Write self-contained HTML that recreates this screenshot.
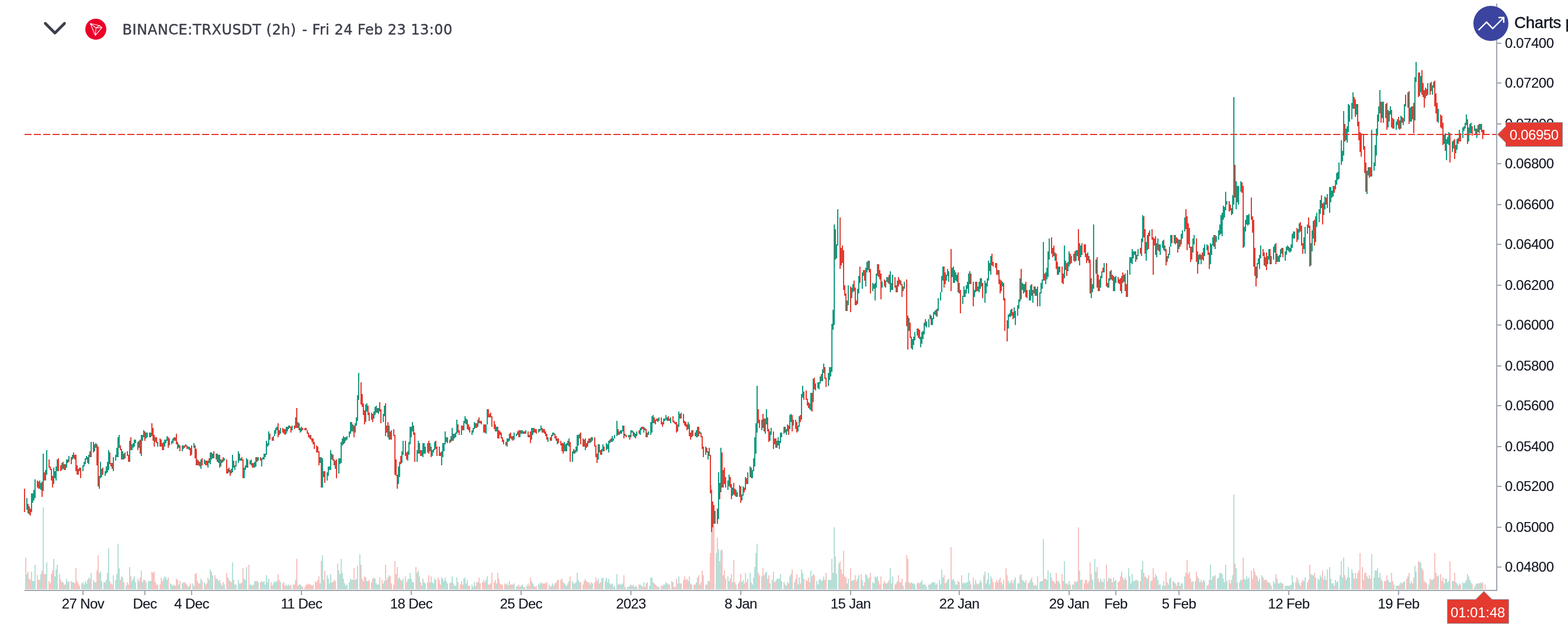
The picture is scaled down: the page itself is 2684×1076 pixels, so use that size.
<!DOCTYPE html>
<html lang="en">
<head>
<meta charset="utf-8">
<title>BINANCE:TRXUSDT (2h)</title>
<style>
html,body{margin:0;padding:0;background:#fff;width:100%;height:100%;overflow:hidden;}
svg{display:block;width:100vw;height:100vh;}
.ax{font-family:"Liberation Sans",sans-serif;font-size:24px;fill:#131722;letter-spacing:-0.45px;stroke:#131722;stroke-width:0.15px;}
.tm{font-family:"Liberation Sans",sans-serif;font-size:24px;fill:#131722;letter-spacing:-0.6px;text-anchor:middle;stroke:#131722;stroke-width:0.15px;}
.hd{font-family:"DejaVu Sans","Liberation Sans",sans-serif;font-size:24px;fill:#3c3f4b;letter-spacing:0.5px;stroke:#3c3f4b;stroke-width:0.45px;}
.br{font-family:"Liberation Sans",sans-serif;font-size:27.6px;fill:#131722;letter-spacing:-0.2px;stroke:#131722;stroke-width:0.5px;}
.lb{font-family:"Liberation Sans",sans-serif;font-size:24px;fill:#fff;}
</style>
</head>
<body>
<svg viewBox="0 0 2684 1076" preserveAspectRatio="xMinYMin meet" role="img" aria-label="BINANCE:TRXUSDT 2h candlestick chart">
<rect width="2684" height="1076" fill="#fff"/>
<g shape-rendering="crispEdges">
<path fill="#b3e0d8" d="M45 982v26h2v-26zM49 990v18h2v-18zM53 978v30h2v-30zM55 994v14h2v-14zM57 994v14h2v-14zM59 966v42h2v-42zM67 992v16h2v-16zM69 982v26h2v-26zM73 868v140h2v-140zM77 982v26h2v-26zM79 962v46h2v-46zM91 956v52h2v-52zM93 986v22h2v-22zM95 974v34h2v-34zM97 966v42h2v-42zM105 996v12h2v-12zM111 1000v8h2v-8zM113 990v18h2v-18zM117 994v14h2v-14zM123 996v12h2v-12zM135 1002v6h2v-6zM141 996v12h2v-12zM143 1000v8h2v-8zM145 994v14h2v-14zM147 998v10h2v-10zM151 988v20h2v-20zM155 980v28h2v-28zM161 996v12h2v-12zM163 996v12h2v-12zM169 980v28h2v-28zM171 978v30h2v-30zM173 994v14h2v-14zM179 996v12h2v-12zM181 992v16h2v-16zM183 980v28h2v-28zM185 938v70h2v-70zM193 984v24h2v-24zM197 992v16h2v-16zM199 982v26h2v-26zM201 930v78h2v-78zM203 972v36h2v-36zM209 988v20h2v-20zM215 1002v6h2v-6zM221 970v38h2v-38zM225 994v14h2v-14zM227 990v18h2v-18zM229 986v22h2v-22zM231 996v12h2v-12zM237 994v14h2v-14zM241 976v32h2v-32zM243 996v12h2v-12zM245 992v16h2v-16zM249 996v12h2v-12zM253 994v14h2v-14zM257 994v14h2v-14zM265 996v12h2v-12zM269 1000v8h2v-8zM279 990v18h2v-18zM281 986v22h2v-22zM283 988v20h2v-20zM285 992v16h2v-16zM291 998v10h2v-10zM293 1000v8h2v-8zM295 1002v6h2v-6zM299 1002v6h2v-6zM305 1000v8h2v-8zM311 998v10h2v-10zM313 996v12h2v-12zM317 998v10h2v-10zM321 1004v4h2v-4zM323 1002v6h2v-6zM329 998v10h2v-10zM331 1002v6h2v-6zM337 994v14h2v-14zM343 990v18h2v-18zM349 996v12h2v-12zM355 988v20h2v-20zM359 974v34h2v-34zM363 984v24h2v-24zM369 990v18h2v-18zM373 994v14h2v-14zM377 998v10h2v-10zM379 1002v6h2v-6zM383 1000v8h2v-8zM389 988v20h2v-20zM395 996v12h2v-12zM397 962v46h2v-46zM401 1000v8h2v-8zM403 1000v8h2v-8zM407 992v16h2v-16zM411 998v10h2v-10zM417 990v18h2v-18zM419 992v16h2v-16zM421 970v38h2v-38zM427 1000v8h2v-8zM429 1000v8h2v-8zM433 1000v8h2v-8zM435 994v14h2v-14zM437 994v14h2v-14zM441 996v12h2v-12zM447 994v14h2v-14zM449 996v12h2v-12zM451 994v14h2v-14zM453 1000v8h2v-8zM455 984v24h2v-24zM457 996v12h2v-12zM459 990v18h2v-18zM467 998v10h2v-10zM469 994v14h2v-14zM471 996v12h2v-12zM473 994v14h2v-14zM479 996v12h2v-12zM489 1000v8h2v-8zM493 1000v8h2v-8zM501 1000v8h2v-8zM505 992v16h2v-16zM509 1002v6h2v-6zM513 1000v8h2v-8zM515 1002v6h2v-6zM529 1000v8h2v-8zM547 998v10h2v-10zM551 950v58h2v-58zM559 984v24h2v-24zM561 990v18h2v-18zM563 998v10h2v-10zM565 982v26h2v-26zM567 996v12h2v-12zM573 994v14h2v-14zM579 976v32h2v-32zM581 982v26h2v-26zM583 956v52h2v-52zM585 980v28h2v-28zM589 998v10h2v-10zM591 1002v6h2v-6zM593 1000v8h2v-8zM597 996v12h2v-12zM599 990v18h2v-18zM603 992v16h2v-16zM607 992v16h2v-16zM609 990v18h2v-18zM611 968v40h2v-40zM615 948v60h2v-60zM625 988v20h2v-20zM627 994v14h2v-14zM635 996v12h2v-12zM639 988v20h2v-20zM641 990v18h2v-18zM643 998v10h2v-10zM647 1000v8h2v-8zM655 998v10h2v-10zM657 994v14h2v-14zM665 984v24h2v-24zM669 998v10h2v-10zM681 990v18h2v-18zM683 988v20h2v-20zM687 994v14h2v-14zM689 990v18h2v-18zM697 992v16h2v-16zM699 990v18h2v-18zM701 980v28h2v-28zM703 990v18h2v-18zM705 996v12h2v-12zM713 980v28h2v-28zM715 976v32h2v-32zM721 1002v6h2v-6zM723 990v18h2v-18zM725 996v12h2v-12zM727 998v10h2v-10zM731 996v12h2v-12zM735 996v12h2v-12zM739 996v12h2v-12zM741 998v10h2v-10zM743 990v18h2v-18zM755 988v20h2v-20zM757 990v18h2v-18zM759 994v14h2v-14zM761 988v20h2v-20zM763 994v14h2v-14zM771 996v12h2v-12zM773 986v22h2v-22zM777 1002v6h2v-6zM779 1002v6h2v-6zM781 988v20h2v-20zM789 994v14h2v-14zM793 990v18h2v-18zM795 988v20h2v-20zM797 998v10h2v-10zM807 1000v8h2v-8zM809 1004v4h2v-4zM811 996v12h2v-12zM813 1002v6h2v-6zM817 996v12h2v-12zM831 992v16h2v-16zM833 986v22h2v-22zM837 1000v8h2v-8zM849 998v10h2v-10zM867 998v10h2v-10zM869 1002v6h2v-6zM871 994v14h2v-14zM875 1000v8h2v-8zM879 998v10h2v-10zM883 1004v4h2v-4zM885 1002v6h2v-6zM889 1004v4h2v-4zM893 1000v8h2v-8zM895 1004v4h2v-4zM901 1002v6h2v-6zM905 1002v6h2v-6zM909 994v14h2v-14zM911 998v10h2v-10zM921 998v10h2v-10zM923 1000v8h2v-8zM925 996v12h2v-12zM929 998v10h2v-10zM939 1000v8h2v-8zM943 1002v6h2v-6zM945 998v10h2v-10zM947 1002v6h2v-6zM953 992v16h2v-16zM965 998v10h2v-10zM969 1002v6h2v-6zM973 994v14h2v-14zM979 994v14h2v-14zM983 998v10h2v-10zM985 996v12h2v-12zM987 980v28h2v-28zM989 992v16h2v-16zM991 996v12h2v-12zM1001 990v18h2v-18zM1005 996v12h2v-12zM1009 1000v8h2v-8zM1013 998v10h2v-10zM1023 990v18h2v-18zM1029 990v18h2v-18zM1031 988v20h2v-20zM1037 988v20h2v-20zM1039 996v12h2v-12zM1041 990v18h2v-18zM1043 998v10h2v-10zM1047 998v10h2v-10zM1049 1004v4h2v-4zM1051 1002v6h2v-6zM1055 982v26h2v-26zM1059 998v10h2v-10zM1061 1000v8h2v-8zM1063 1000v8h2v-8zM1065 998v10h2v-10zM1069 1004v4h2v-4zM1075 1004v4h2v-4zM1079 1000v8h2v-8zM1081 1002v6h2v-6zM1085 1004v4h2v-4zM1089 1004v4h2v-4zM1095 1000v8h2v-8zM1097 1002v6h2v-6zM1101 996v12h2v-12zM1107 996v12h2v-12zM1111 1002v6h2v-6zM1113 988v20h2v-20zM1115 988v20h2v-20zM1117 996v12h2v-12zM1121 1000v8h2v-8zM1125 1004v4h2v-4zM1127 1004v4h2v-4zM1135 1000v8h2v-8zM1137 1000v8h2v-8zM1139 996v12h2v-12zM1141 998v10h2v-10zM1145 1000v8h2v-8zM1149 994v14h2v-14zM1159 998v10h2v-10zM1161 986v22h2v-22zM1165 998v10h2v-10zM1177 994v14h2v-14zM1183 1000v8h2v-8zM1191 996v12h2v-12zM1193 988v20h2v-20zM1197 1000v8h2v-8zM1207 1000v8h2v-8zM1211 994v14h2v-14zM1225 946v62h2v-62zM1229 940v68h2v-68zM1233 942v66h2v-66zM1237 984v24h2v-24zM1245 986v22h2v-22zM1247 994v14h2v-14zM1253 996v12h2v-12zM1259 1000v8h2v-8zM1265 994v14h2v-14zM1269 996v12h2v-12zM1271 992v16h2v-16zM1275 980v28h2v-28zM1279 990v18h2v-18zM1283 980v28h2v-28zM1287 1000v8h2v-8zM1289 988v20h2v-20zM1291 970v38h2v-38zM1293 946v62h2v-62zM1295 930v78h2v-78zM1303 986v22h2v-22zM1309 980v28h2v-28zM1311 978v30h2v-30zM1317 998v10h2v-10zM1321 992v16h2v-16zM1329 990v18h2v-18zM1331 990v18h2v-18zM1333 990v18h2v-18zM1335 982v26h2v-26zM1337 994v14h2v-14zM1341 996v12h2v-12zM1345 1002v6h2v-6zM1347 996v12h2v-12zM1351 986v22h2v-22zM1353 982v26h2v-26zM1359 996v12h2v-12zM1365 1000v8h2v-8zM1367 988v20h2v-20zM1371 974v34h2v-34zM1373 980v28h2v-28zM1385 996v12h2v-12zM1387 976v32h2v-32zM1391 982v26h2v-26zM1397 994v14h2v-14zM1399 1000v8h2v-8zM1401 992v16h2v-16zM1403 990v18h2v-18zM1407 992v16h2v-16zM1409 986v22h2v-22zM1417 992v16h2v-16zM1419 992v16h2v-16zM1421 992v16h2v-16zM1423 956v52h2v-52zM1425 980v28h2v-28zM1427 902v106h2v-106zM1431 982v26h2v-26zM1435 964v44h2v-44zM1449 998v10h2v-10zM1451 990v18h2v-18zM1457 994v14h2v-14zM1459 992v16h2v-16zM1467 990v18h2v-18zM1469 984v24h2v-24zM1475 992v16h2v-16zM1477 1002v6h2v-6zM1481 982v26h2v-26zM1483 984v24h2v-24zM1485 990v18h2v-18zM1493 996v12h2v-12zM1495 998v10h2v-10zM1497 986v22h2v-22zM1499 988v20h2v-20zM1501 986v22h2v-22zM1511 998v10h2v-10zM1515 998v10h2v-10zM1517 998v10h2v-10zM1519 996v12h2v-12zM1523 972v36h2v-36zM1527 986v22h2v-22zM1535 994v14h2v-14zM1539 996v12h2v-12zM1545 1002v6h2v-6zM1549 996v12h2v-12zM1555 996v12h2v-12zM1561 998v10h2v-10zM1563 998v10h2v-10zM1565 1000v8h2v-8zM1569 998v10h2v-10zM1575 996v12h2v-12zM1577 992v16h2v-16zM1579 1000v8h2v-8zM1581 1000v8h2v-8zM1585 1004v4h2v-4zM1589 1000v8h2v-8zM1591 1000v8h2v-8zM1595 996v12h2v-12zM1597 996v12h2v-12zM1599 996v12h2v-12zM1603 998v10h2v-10zM1607 992v16h2v-16zM1609 1000v8h2v-8zM1611 974v34h2v-34zM1613 988v20h2v-20zM1619 996v12h2v-12zM1621 992v16h2v-16zM1623 990v18h2v-18zM1629 992v16h2v-16zM1633 994v14h2v-14zM1635 1000v8h2v-8zM1637 1000v8h2v-8zM1641 996v12h2v-12zM1647 998v10h2v-10zM1649 996v12h2v-12zM1651 998v10h2v-10zM1653 996v12h2v-12zM1655 996v12h2v-12zM1657 980v28h2v-28zM1659 994v14h2v-14zM1667 1000v8h2v-8zM1669 992v16h2v-16zM1673 1000v8h2v-8zM1675 998v10h2v-10zM1677 992v16h2v-16zM1685 978v30h2v-30zM1687 998v10h2v-10zM1689 992v16h2v-16zM1691 980v28h2v-28zM1695 986v22h2v-22zM1707 996v12h2v-12zM1715 1000v8h2v-8zM1725 994v14h2v-14zM1727 998v10h2v-10zM1729 996v12h2v-12zM1735 992v16h2v-16zM1737 988v20h2v-20zM1741 998v10h2v-10zM1743 998v10h2v-10zM1745 984v24h2v-24zM1749 992v16h2v-16zM1753 996v12h2v-12zM1761 996v12h2v-12zM1763 992v16h2v-16zM1767 996v12h2v-12zM1769 1002v6h2v-6zM1773 1002v6h2v-6zM1779 996v12h2v-12zM1781 994v14h2v-14zM1783 994v14h2v-14zM1785 922v86h2v-86zM1789 990v18h2v-18zM1791 992v16h2v-16zM1793 976v32h2v-32zM1797 980v28h2v-28zM1805 998v10h2v-10zM1811 994v14h2v-14zM1821 960v48h2v-48zM1823 998v10h2v-10zM1827 1000v8h2v-8zM1829 994v14h2v-14zM1835 1000v8h2v-8zM1837 1000v8h2v-8zM1841 996v12h2v-12zM1843 994v14h2v-14zM1847 976v32h2v-32zM1849 992v16h2v-16zM1861 998v10h2v-10zM1867 982v26h2v-26zM1869 992v16h2v-16zM1873 956v52h2v-52zM1875 978v30h2v-30zM1881 996v12h2v-12zM1883 990v18h2v-18zM1885 994v14h2v-14zM1889 990v18h2v-18zM1897 988v20h2v-20zM1899 990v18h2v-18zM1907 994v14h2v-14zM1909 992v16h2v-16zM1919 978v30h2v-30zM1923 992v16h2v-16zM1931 972v36h2v-36zM1933 986v22h2v-22zM1935 998v10h2v-10zM1937 982v26h2v-26zM1939 994v14h2v-14zM1941 994v14h2v-14zM1945 992v16h2v-16zM1947 994v14h2v-14zM1953 974v34h2v-34zM1955 960v48h2v-48zM1961 988v20h2v-20zM1963 990v18h2v-18zM1969 994v14h2v-14zM1979 986v22h2v-22zM1981 992v16h2v-16zM1985 1000v8h2v-8zM1989 1002v6h2v-6zM1993 1002v6h2v-6zM1997 996v12h2v-12zM1999 1000v8h2v-8zM2001 990v18h2v-18zM2003 988v20h2v-20zM2009 996v12h2v-12zM2017 996v12h2v-12zM2021 998v10h2v-10zM2023 998v10h2v-10zM2027 986v22h2v-22zM2041 994v14h2v-14zM2045 994v14h2v-14zM2051 990v18h2v-18zM2055 992v16h2v-16zM2059 992v16h2v-16zM2061 994v14h2v-14zM2065 1002v6h2v-6zM2071 966v42h2v-42zM2073 992v16h2v-16zM2075 986v22h2v-22zM2079 984v24h2v-24zM2083 990v18h2v-18zM2085 988v20h2v-20zM2087 980v28h2v-28zM2089 980v28h2v-28zM2091 982v26h2v-26zM2093 990v18h2v-18zM2095 996v12h2v-12zM2097 966v42h2v-42zM2099 994v14h2v-14zM2109 984v24h2v-24zM2111 846v162h2v-162zM2115 972v36h2v-36zM2121 996v12h2v-12zM2123 992v16h2v-16zM2129 990v18h2v-18zM2131 992v16h2v-16zM2133 986v22h2v-22zM2135 990v18h2v-18zM2137 988v20h2v-20zM2151 986v22h2v-22zM2153 994v14h2v-14zM2155 990v18h2v-18zM2159 984v24h2v-24zM2165 992v16h2v-16zM2169 996v12h2v-12zM2171 996v12h2v-12zM2175 1002v6h2v-6zM2179 994v14h2v-14zM2181 998v10h2v-10zM2185 990v18h2v-18zM2187 998v10h2v-10zM2189 998v10h2v-10zM2191 996v12h2v-12zM2193 998v10h2v-10zM2199 1002v6h2v-6zM2201 1002v6h2v-6zM2205 1002v6h2v-6zM2207 1002v6h2v-6zM2209 1000v8h2v-8zM2211 984v24h2v-24zM2213 996v12h2v-12zM2217 996v12h2v-12zM2221 992v16h2v-16zM2223 998v10h2v-10zM2231 994v14h2v-14zM2233 988v20h2v-20zM2237 996v12h2v-12zM2243 982v26h2v-26zM2245 984v24h2v-24zM2247 984v24h2v-24zM2251 988v20h2v-20zM2255 990v18h2v-18zM2257 992v16h2v-16zM2259 984v24h2v-24zM2265 992v16h2v-16zM2267 986v22h2v-22zM2271 974v34h2v-34zM2275 970v38h2v-38zM2277 990v18h2v-18zM2279 998v10h2v-10zM2281 998v10h2v-10zM2285 992v16h2v-16zM2287 996v12h2v-12zM2289 994v14h2v-14zM2293 984v24h2v-24zM2295 960v48h2v-48zM2297 988v20h2v-20zM2299 954v54h2v-54zM2303 992v16h2v-16zM2305 988v20h2v-20zM2307 970v38h2v-38zM2309 988v20h2v-20zM2313 974v34h2v-34zM2315 980v28h2v-28zM2321 990v18h2v-18zM2339 986v22h2v-22zM2341 990v18h2v-18zM2347 948v60h2v-60zM2351 988v20h2v-20zM2353 976v32h2v-32zM2355 976v32h2v-32zM2357 972v36h2v-36zM2359 988v20h2v-20zM2361 980v28h2v-28zM2365 994v14h2v-14zM2371 994v14h2v-14zM2375 992v16h2v-16zM2379 996v12h2v-12zM2385 1000v8h2v-8zM2389 1002v6h2v-6zM2391 1002v6h2v-6zM2397 996v12h2v-12zM2401 996v12h2v-12zM2403 994v14h2v-14zM2409 986v22h2v-22zM2413 998v10h2v-10zM2415 994v14h2v-14zM2421 968v40h2v-40zM2423 978v30h2v-30zM2429 962v46h2v-46zM2431 962v46h2v-46zM2439 996v12h2v-12zM2445 1000v8h2v-8zM2449 992v16h2v-16zM2451 992v16h2v-16zM2453 990v18h2v-18zM2461 984v24h2v-24zM2471 998v10h2v-10zM2475 990v18h2v-18zM2477 996v12h2v-12zM2479 994v14h2v-14zM2485 994v14h2v-14zM2487 994v14h2v-14zM2491 996v12h2v-12zM2493 998v10h2v-10zM2497 998v10h2v-10zM2503 996v12h2v-12zM2505 998v10h2v-10zM2507 996v12h2v-12zM2509 992v16h2v-16zM2513 986v22h2v-22zM2515 992v16h2v-16zM2517 996v12h2v-12zM2523 1004v4h2v-4zM2527 998v10h2v-10zM2529 998v10h2v-10zM2533 996v12h2v-12z"/>
<path fill="#f8c3c0" d="M43 954v54h2v-54zM47 978v30h2v-30zM51 992v16h2v-16zM63 984v24h2v-24zM65 992v16h2v-16zM71 976v32h2v-32zM75 982v26h2v-26zM83 994v14h2v-14zM85 998v10h2v-10zM87 982v26h2v-26zM89 976v32h2v-32zM101 982v26h2v-26zM103 992v16h2v-16zM107 996v12h2v-12zM109 1000v8h2v-8zM115 996v12h2v-12zM121 994v14h2v-14zM125 996v12h2v-12zM127 998v10h2v-10zM129 972v36h2v-36zM131 994v14h2v-14zM133 998v10h2v-10zM139 998v10h2v-10zM149 992v16h2v-16zM153 990v18h2v-18zM159 992v16h2v-16zM165 976v32h2v-32zM167 950v58h2v-58zM177 996v12h2v-12zM187 994v14h2v-14zM189 998v10h2v-10zM191 1000v8h2v-8zM205 992v16h2v-16zM207 986v22h2v-22zM211 996v12h2v-12zM217 996v12h2v-12zM219 1000v8h2v-8zM223 986v22h2v-22zM235 990v18h2v-18zM239 988v20h2v-20zM247 992v16h2v-16zM255 994v14h2v-14zM259 978v30h2v-30zM261 980v28h2v-28zM263 978v30h2v-30zM267 1000v8h2v-8zM273 1000v8h2v-8zM275 988v20h2v-20zM277 994v14h2v-14zM287 988v20h2v-20zM297 1000v8h2v-8zM301 990v18h2v-18zM303 992v16h2v-16zM307 994v14h2v-14zM315 996v12h2v-12zM319 1000v8h2v-8zM325 998v10h2v-10zM333 982v26h2v-26zM335 980v28h2v-28zM339 998v10h2v-10zM341 998v10h2v-10zM345 994v14h2v-14zM351 1000v8h2v-8zM353 998v10h2v-10zM357 992v16h2v-16zM361 978v30h2v-30zM367 984v24h2v-24zM371 990v18h2v-18zM375 992v16h2v-16zM381 996v12h2v-12zM387 980v28h2v-28zM391 992v16h2v-16zM393 994v14h2v-14zM399 992v16h2v-16zM409 998v10h2v-10zM413 996v12h2v-12zM415 972v36h2v-36zM425 966v42h2v-42zM431 1002v6h2v-6zM439 994v14h2v-14zM445 996v12h2v-12zM463 996v12h2v-12zM465 1002v6h2v-6zM475 982v26h2v-26zM477 992v16h2v-16zM483 998v10h2v-10zM485 996v12h2v-12zM487 1002v6h2v-6zM491 1002v6h2v-6zM495 1002v6h2v-6zM497 1000v8h2v-8zM503 1000v8h2v-8zM507 956v52h2v-52zM511 1000v8h2v-8zM517 1004v4h2v-4zM521 1004v4h2v-4zM523 1000v8h2v-8zM525 1000v8h2v-8zM527 998v10h2v-10zM531 1000v8h2v-8zM533 1002v6h2v-6zM535 1000v8h2v-8zM539 994v14h2v-14zM541 996v12h2v-12zM543 992v16h2v-16zM545 986v22h2v-22zM549 960v48h2v-48zM553 992v16h2v-16zM555 976v32h2v-32zM569 996v12h2v-12zM571 992v16h2v-16zM577 964v44h2v-44zM587 990v18h2v-18zM601 992v16h2v-16zM605 972v36h2v-36zM617 966v42h2v-42zM619 990v18h2v-18zM621 994v14h2v-14zM623 986v22h2v-22zM629 994v14h2v-14zM631 992v16h2v-16zM637 990v18h2v-18zM645 1000v8h2v-8zM649 988v20h2v-20zM653 992v16h2v-16zM659 966v42h2v-42zM661 992v16h2v-16zM663 988v20h2v-20zM667 986v22h2v-22zM673 1000v8h2v-8zM675 960v48h2v-48zM677 982v26h2v-26zM679 970v38h2v-38zM685 992v16h2v-16zM693 986v22h2v-22zM695 996v12h2v-12zM707 996v12h2v-12zM711 970v38h2v-38zM717 986v22h2v-22zM719 996v12h2v-12zM733 984v24h2v-24zM737 986v22h2v-22zM745 992v16h2v-16zM749 988v20h2v-20zM751 992v16h2v-16zM753 1000v8h2v-8zM765 998v10h2v-10zM769 998v10h2v-10zM775 998v10h2v-10zM783 996v12h2v-12zM787 1000v8h2v-8zM791 1000v8h2v-8zM799 992v16h2v-16zM801 1002v6h2v-6zM803 1002v6h2v-6zM815 996v12h2v-12zM819 988v20h2v-20zM821 998v10h2v-10zM825 996v12h2v-12zM827 992v16h2v-16zM829 996v12h2v-12zM835 1000v8h2v-8zM839 998v10h2v-10zM841 980v28h2v-28zM845 996v12h2v-12zM847 992v16h2v-16zM851 980v28h2v-28zM853 990v18h2v-18zM855 998v10h2v-10zM857 1000v8h2v-8zM859 1000v8h2v-8zM863 998v10h2v-10zM865 1000v8h2v-8zM873 1000v8h2v-8zM877 1000v8h2v-8zM887 1000v8h2v-8zM891 1002v6h2v-6zM897 1004v4h2v-4zM903 998v10h2v-10zM907 988v20h2v-20zM913 1002v6h2v-6zM915 1004v4h2v-4zM917 1002v6h2v-6zM927 998v10h2v-10zM931 998v10h2v-10zM933 998v10h2v-10zM935 996v12h2v-12zM941 1004v4h2v-4zM949 998v10h2v-10zM951 996v12h2v-12zM955 992v16h2v-16zM959 992v16h2v-16zM961 990v18h2v-18zM963 996v12h2v-12zM967 1000v8h2v-8zM971 998v10h2v-10zM975 986v22h2v-22zM981 998v10h2v-10zM993 996v12h2v-12zM997 1000v8h2v-8zM999 994v14h2v-14zM1003 994v14h2v-14zM1007 996v12h2v-12zM1011 996v12h2v-12zM1017 996v12h2v-12zM1019 988v20h2v-20zM1021 994v14h2v-14zM1025 998v10h2v-10zM1027 996v12h2v-12zM1035 994v14h2v-14zM1045 1000v8h2v-8zM1057 1000v8h2v-8zM1067 984v24h2v-24zM1073 1004v4h2v-4zM1077 1002v6h2v-6zM1083 1000v8h2v-8zM1087 1002v6h2v-6zM1093 1000v8h2v-8zM1099 1004v4h2v-4zM1103 1004v4h2v-4zM1105 998v10h2v-10zM1119 998v10h2v-10zM1123 1002v6h2v-6zM1131 1002v6h2v-6zM1133 1002v6h2v-6zM1143 1000v8h2v-8zM1151 996v12h2v-12zM1153 1004v4h2v-4zM1155 1004v4h2v-4zM1157 990v18h2v-18zM1163 998v10h2v-10zM1169 992v16h2v-16zM1171 986v22h2v-22zM1173 992v16h2v-16zM1175 990v18h2v-18zM1179 986v22h2v-22zM1181 998v10h2v-10zM1187 1000v8h2v-8zM1189 1000v8h2v-8zM1195 984v24h2v-24zM1199 996v12h2v-12zM1201 976v32h2v-32zM1203 984v24h2v-24zM1209 1000v8h2v-8zM1213 994v14h2v-14zM1215 946v62h2v-62zM1217 830v178h2v-178zM1219 890v118h2v-118zM1221 898v110h2v-110zM1227 920v88h2v-88zM1231 960v48h2v-48zM1235 940v68h2v-68zM1239 976v32h2v-32zM1241 990v18h2v-18zM1249 990v18h2v-18zM1251 982v26h2v-26zM1255 958v50h2v-50zM1257 996v12h2v-12zM1263 998v10h2v-10zM1267 982v26h2v-26zM1273 998v10h2v-10zM1277 996v12h2v-12zM1285 996v12h2v-12zM1297 980v28h2v-28zM1299 984v24h2v-24zM1305 972v36h2v-36zM1307 984v24h2v-24zM1313 990v18h2v-18zM1315 984v24h2v-24zM1323 978v30h2v-30zM1325 996v12h2v-12zM1327 994v14h2v-14zM1343 1000v8h2v-8zM1349 998v10h2v-10zM1355 974v34h2v-34zM1361 990v18h2v-18zM1363 982v26h2v-26zM1369 998v10h2v-10zM1375 990v18h2v-18zM1379 992v16h2v-16zM1381 994v14h2v-14zM1383 988v20h2v-20zM1389 986v22h2v-22zM1393 984v24h2v-24zM1405 994v14h2v-14zM1411 992v16h2v-16zM1413 980v28h2v-28zM1429 952v56h2v-56zM1437 960v48h2v-48zM1439 974v34h2v-34zM1441 982v26h2v-26zM1443 942v66h2v-66zM1445 986v22h2v-22zM1447 988v20h2v-20zM1455 972v36h2v-36zM1461 992v16h2v-16zM1463 984v24h2v-24zM1465 994v14h2v-14zM1473 982v26h2v-26zM1479 996v12h2v-12zM1487 988v20h2v-20zM1489 980v28h2v-28zM1503 994v14h2v-14zM1505 1000v8h2v-8zM1507 986v22h2v-22zM1513 994v14h2v-14zM1521 992v16h2v-16zM1525 998v10h2v-10zM1531 1000v8h2v-8zM1533 998v10h2v-10zM1537 984v24h2v-24zM1541 996v12h2v-12zM1543 990v18h2v-18zM1551 950v58h2v-58zM1553 956v52h2v-52zM1557 998v10h2v-10zM1559 996v12h2v-12zM1571 996v12h2v-12zM1573 998v10h2v-10zM1583 1000v8h2v-8zM1593 998v10h2v-10zM1601 1000v8h2v-8zM1615 984v24h2v-24zM1617 998v10h2v-10zM1627 936v72h2v-72zM1631 990v18h2v-18zM1639 994v14h2v-14zM1645 984v24h2v-24zM1661 1000v8h2v-8zM1665 988v20h2v-20zM1671 998v10h2v-10zM1679 996v12h2v-12zM1683 984v24h2v-24zM1693 1000v8h2v-8zM1697 990v18h2v-18zM1699 996v12h2v-12zM1703 996v12h2v-12zM1705 992v16h2v-16zM1709 992v16h2v-16zM1711 988v20h2v-20zM1713 996v12h2v-12zM1717 992v16h2v-16zM1721 972v36h2v-36zM1723 984v24h2v-24zM1731 992v16h2v-16zM1733 998v10h2v-10zM1747 982v26h2v-26zM1751 994v14h2v-14zM1755 992v16h2v-16zM1759 998v10h2v-10zM1765 988v20h2v-20zM1771 1000v8h2v-8zM1775 986v22h2v-22zM1787 990v18h2v-18zM1799 988v20h2v-20zM1801 994v14h2v-14zM1803 994v14h2v-14zM1807 980v28h2v-28zM1809 994v14h2v-14zM1813 998v10h2v-10zM1817 982v26h2v-26zM1819 994v14h2v-14zM1825 998v10h2v-10zM1831 1000v8h2v-8zM1839 994v14h2v-14zM1845 902v106h2v-106zM1851 992v16h2v-16zM1855 998v10h2v-10zM1857 992v16h2v-16zM1859 992v16h2v-16zM1863 994v14h2v-14zM1865 962v46h2v-46zM1877 970v38h2v-38zM1879 990v18h2v-18zM1887 996v12h2v-12zM1893 966v42h2v-42zM1895 994v14h2v-14zM1901 990v18h2v-18zM1903 996v12h2v-12zM1905 988v20h2v-20zM1913 996v12h2v-12zM1915 994v14h2v-14zM1917 986v22h2v-22zM1921 988v20h2v-20zM1925 988v20h2v-20zM1927 992v16h2v-16zM1943 992v16h2v-16zM1951 994v14h2v-14zM1957 980v28h2v-28zM1959 986v22h2v-22zM1965 984v24h2v-24zM1971 992v16h2v-16zM1973 972v36h2v-36zM1975 988v20h2v-20zM1977 982v26h2v-26zM1983 1000v8h2v-8zM1991 994v14h2v-14zM1995 978v30h2v-30zM2007 994v14h2v-14zM2011 998v10h2v-10zM2013 1002v6h2v-6zM2015 996v12h2v-12zM2019 1002v6h2v-6zM2029 980v28h2v-28zM2031 958v50h2v-50zM2033 982v26h2v-26zM2035 978v30h2v-30zM2037 990v18h2v-18zM2039 996v12h2v-12zM2047 978v30h2v-30zM2049 986v22h2v-22zM2053 996v12h2v-12zM2057 996v12h2v-12zM2067 1000v8h2v-8zM2069 992v16h2v-16zM2077 986v22h2v-22zM2103 992v16h2v-16zM2105 998v10h2v-10zM2107 992v16h2v-16zM2113 964v44h2v-44zM2117 996v12h2v-12zM2125 992v16h2v-16zM2127 954v54h2v-54zM2141 976v32h2v-32zM2143 990v18h2v-18zM2145 972v36h2v-36zM2147 978v30h2v-30zM2149 984v24h2v-24zM2161 988v20h2v-20zM2163 992v16h2v-16zM2167 992v16h2v-16zM2173 998v10h2v-10zM2183 982v26h2v-26zM2195 998v10h2v-10zM2203 1002v6h2v-6zM2219 988v20h2v-20zM2225 1002v6h2v-6zM2227 996v12h2v-12zM2229 992v16h2v-16zM2239 992v16h2v-16zM2241 966v42h2v-42zM2249 980v28h2v-28zM2261 988v20h2v-20zM2263 976v32h2v-32zM2269 992v16h2v-16zM2283 1002v6h2v-6zM2301 984v24h2v-24zM2317 990v18h2v-18zM2319 980v28h2v-28zM2323 980v28h2v-28zM2325 976v32h2v-32zM2327 946v62h2v-62zM2331 970v38h2v-38zM2333 992v16h2v-16zM2335 980v28h2v-28zM2337 980v28h2v-28zM2343 984v24h2v-24zM2345 990v18h2v-18zM2363 990v18h2v-18zM2369 994v14h2v-14zM2373 984v24h2v-24zM2377 996v12h2v-12zM2381 980v28h2v-28zM2383 994v14h2v-14zM2393 1002v6h2v-6zM2395 1000v8h2v-8zM2399 998v10h2v-10zM2407 990v18h2v-18zM2411 980v28h2v-28zM2417 998v10h2v-10zM2419 988v20h2v-20zM2427 960v48h2v-48zM2433 972v36h2v-36zM2435 976v32h2v-32zM2437 994v14h2v-14zM2441 998v10h2v-10zM2447 990v18h2v-18zM2455 946v62h2v-62zM2457 980v28h2v-28zM2459 986v22h2v-22zM2465 982v26h2v-26zM2467 994v14h2v-14zM2469 988v20h2v-20zM2473 990v18h2v-18zM2481 960v48h2v-48zM2489 980v28h2v-28zM2495 1002v6h2v-6zM2499 1000v8h2v-8zM2511 982v26h2v-26zM2519 1000v8h2v-8zM2525 1000v8h2v-8zM2531 998v10h2v-10zM2535 998v10h2v-10zM2537 996v12h2v-12zM2541 1000v8h2v-8z"/>
<path fill="#119a7f" d="M45 852v20h2v-20zM49 866v14h2v-14zM53 844v32h2v-32zM55 844v16h2v-16zM57 838v18h2v-18zM59 820v32h2v-32zM67 822v14h2v-14zM69 826v12h2v-12zM73 776v64h2v-64zM77 804v18h2v-18zM79 770v42h2v-42zM91 800v28h2v-28zM93 806v12h2v-12zM95 798v24h2v-24zM97 786v20h2v-20zM105 792v12h2v-12zM111 794v10h2v-10zM113 786v14h2v-14zM117 780v10h2v-10zM123 778v8h2v-8zM135 800v6h2v-6zM141 796v10h2v-10zM143 790v8h2v-8zM145 784v10h2v-10zM147 780v6h2v-6zM151 778v16h2v-16zM155 756v26h2v-26zM161 760v12h2v-12zM163 758v8h2v-8zM169 814v22h2v-22zM171 790v28h2v-28zM173 802v14h2v-14zM179 806v8h2v-8zM181 798v12h2v-12zM183 790v18h2v-18zM185 770v34h2v-34zM193 782v24h2v-24zM197 778v10h2v-10zM199 766v16h2v-16zM201 748v34h2v-34zM203 744v22h2v-22zM209 772v14h2v-14zM213 774v10h2v-10zM221 754v36h2v-36zM225 760v10h2v-10zM227 758v8h2v-8zM229 752v12h2v-12zM231 752v6h2v-6zM237 754v12h2v-12zM241 744v36h2v-36zM243 744v10h2v-10zM245 736v12h2v-12zM249 740v10h2v-10zM251 740v8h2v-8zM257 740v8h2v-8zM265 748v8h2v-8zM269 756v8h2v-8zM279 756v14h2v-14zM281 752v12h2v-12zM283 752v6h2v-6zM285 746v8h2v-8zM289 750v12h2v-12zM293 754v6h2v-6zM295 750v8h2v-8zM299 748v6h2v-6zM305 760v6h2v-6zM311 762v10h2v-10zM313 762v6h2v-6zM317 760v4h2v-4zM321 764v4h2v-4zM323 764v6h2v-6zM327 762v16h2v-16zM331 758v8h2v-8zM337 786v10h2v-10zM343 786v16h2v-16zM349 786v8h2v-8zM355 788v12h2v-12zM359 774v20h2v-20zM363 776v8h2v-8zM369 776v10h2v-10zM373 778v14h2v-14zM377 786v12h2v-12zM379 786v6h2v-6zM383 784v4h2v-4zM389 802v8h2v-8zM395 802v8h2v-8zM397 778v30h2v-30zM401 796v8h2v-8zM403 788v10h2v-10zM407 772v20h2v-20zM411 784v4h2v-4zM417 800v18h2v-18zM419 796v8h2v-8zM421 784v16h2v-16zM427 788v6h2v-6zM429 786v10h2v-10zM433 792v8h2v-8zM435 790v10h2v-10zM437 782v16h2v-16zM441 782v6h2v-6zM447 784v14h2v-14zM449 782v4h2v-4zM451 776v10h2v-10zM453 776v6h2v-6zM455 754v24h2v-24zM457 758v6h2v-6zM459 738v24h2v-24zM467 746v8h2v-8zM469 736v10h2v-10zM471 732v10h2v-10zM473 730v6h2v-6zM479 732v10h2v-10zM489 730v12h2v-12zM493 728v6h2v-6zM499 728v8h2v-8zM505 714v18h2v-18zM509 722v10h2v-10zM513 732v8h2v-8zM515 730v8h2v-8zM529 744v6h2v-6zM547 782v10h2v-10zM551 784v50h2v-50zM559 808v14h2v-14zM561 798v16h2v-16zM563 798v6h2v-6zM565 770v34h2v-34zM567 776v10h2v-10zM573 788v14h2v-14zM579 784v26h2v-26zM581 784v10h2v-10zM583 756v36h2v-36zM585 750v12h2v-12zM589 748v10h2v-10zM591 748v6h2v-6zM593 746v6h2v-6zM597 738v10h2v-10zM599 722v20h2v-20zM603 726v12h2v-12zM607 724v16h2v-16zM609 714v14h2v-14zM611 676v44h2v-44zM613 638v46h2v-46zM625 692v30h2v-30zM627 690v14h2v-14zM635 706v12h2v-12zM639 704v12h2v-12zM641 696v14h2v-14zM643 694v12h2v-12zM647 698v10h2v-10zM655 708v14h2v-14zM657 694v18h2v-18zM665 728v24h2v-24zM669 736v16h2v-16zM681 798v30h2v-30zM683 790v26h2v-26zM687 772v20h2v-20zM689 754v24h2v-24zM697 772v16h2v-16zM699 756v22h2v-22zM701 730v30h2v-30zM703 730v18h2v-18zM705 722v16h2v-16zM713 770v20h2v-20zM715 754v22h2v-22zM721 770v10h2v-10zM723 758v24h2v-24zM725 758v18h2v-18zM727 764v12h2v-12zM731 758v16h2v-16zM735 758v14h2v-14zM739 770v10h2v-10zM741 768v6h2v-6zM743 756v14h2v-14zM755 772v24h2v-24zM757 758v24h2v-24zM759 758v14h2v-14zM761 738v22h2v-22zM763 748v8h2v-8zM771 746v10h2v-10zM773 732v22h2v-22zM777 742v8h2v-8zM779 740v8h2v-8zM781 718v24h2v-24zM789 728v16h2v-16zM793 720v16h2v-16zM795 712v12h2v-12zM797 716v10h2v-10zM807 736v8h2v-8zM809 732v8h2v-8zM811 722v12h2v-12zM813 724v8h2v-8zM817 718v12h2v-12zM831 726v16h2v-16zM833 700v26h2v-26zM837 708v6h2v-6zM849 730v8h2v-8zM867 750v14h2v-14zM869 750v6h2v-6zM871 742v12h2v-12zM875 746v6h2v-6zM879 740v12h2v-12zM883 742v4h2v-4zM885 738v6h2v-6zM889 736v12h2v-12zM893 736v6h2v-6zM895 738v4h2v-4zM899 736v6h2v-6zM905 744v4h2v-4zM909 732v20h2v-20zM911 732v12h2v-12zM921 734v6h2v-6zM923 734v4h2v-4zM925 728v8h2v-8zM929 734v6h2v-6zM937 748v8h2v-8zM943 744v10h2v-10zM945 740v6h2v-6zM947 740v4h2v-4zM953 750v10h2v-10zM965 756v16h2v-16zM969 758v14h2v-14zM973 750v14h2v-14zM979 772v18h2v-18zM983 770v6h2v-6zM985 764v10h2v-10zM987 744v28h2v-28zM989 744v18h2v-18zM991 742v8h2v-8zM1001 750v20h2v-20zM1005 754v10h2v-10zM1009 750v8h2v-8zM1013 748v6h2v-6zM1023 760v26h2v-26zM1029 768v10h2v-10zM1031 760v12h2v-12zM1037 758v12h2v-12zM1039 760v8h2v-8zM1041 754v20h2v-20zM1043 752v6h2v-6zM1047 746v10h2v-10zM1049 750v4h2v-4zM1051 744v6h2v-6zM1055 720v26h2v-26zM1059 738v6h2v-6zM1061 736v6h2v-6zM1063 736v6h2v-6zM1065 728v10h2v-10zM1069 742v4h2v-4zM1075 744v4h2v-4zM1079 736v12h2v-12zM1081 736v4h2v-4zM1085 740v8h2v-8zM1089 738v8h2v-8zM1095 732v12h2v-12zM1097 730v6h2v-6zM1101 730v10h2v-10zM1107 740v8h2v-8zM1109 738v6h2v-6zM1113 722v22h2v-22zM1115 712v28h2v-28zM1117 710v14h2v-14zM1121 718v8h2v-8zM1125 716v6h2v-6zM1127 714v6h2v-6zM1135 716v10h2v-10zM1137 716v4h2v-4zM1139 710v8h2v-8zM1141 714v6h2v-6zM1145 716v4h2v-4zM1147 714v10h2v-10zM1159 726v12h2v-12zM1161 704v26h2v-26zM1165 706v10h2v-10zM1177 722v12h2v-12zM1183 736v12h2v-12zM1191 736v12h2v-12zM1193 730v18h2v-18zM1197 738v4h2v-4zM1207 764v14h2v-14zM1211 772v14h2v-14zM1223 874v22h2v-22zM1229 808v80h2v-80zM1233 766v76h2v-76zM1237 804v30h2v-30zM1245 822v16h2v-16zM1247 812v20h2v-20zM1253 834v14h2v-14zM1259 838v12h2v-12zM1265 830v20h2v-20zM1269 846v10h2v-10zM1271 832v16h2v-16zM1275 816v22h2v-22zM1279 808v20h2v-20zM1283 798v18h2v-18zM1287 804v14h2v-14zM1289 784v22h2v-22zM1291 748v50h2v-50zM1293 724v52h2v-52zM1295 660v80h2v-80zM1303 718v18h2v-18zM1309 716v26h2v-26zM1311 700v26h2v-26zM1317 738v16h2v-16zM1319 732v12h2v-12zM1329 754v12h2v-12zM1331 748v14h2v-14zM1333 754v14h2v-14zM1335 740v18h2v-18zM1337 740v8h2v-8zM1341 730v12h2v-12zM1345 734v10h2v-10zM1347 726v12h2v-12zM1351 710v24h2v-24zM1353 708v14h2v-14zM1357 718v10h2v-10zM1365 728v10h2v-10zM1367 712v18h2v-18zM1371 674v44h2v-44zM1373 660v20h2v-20zM1385 690v10h2v-10zM1387 672v30h2v-30zM1391 648v40h2v-40zM1395 656v12h2v-12zM1399 654v10h2v-10zM1401 654v12h2v-12zM1403 644v12h2v-12zM1407 632v20h2v-20zM1409 622v16h2v-16zM1417 638v22h2v-22zM1419 628v22h2v-22zM1421 628v16h2v-16zM1423 554v82h2v-82zM1425 530v34h2v-34zM1427 384v172h2v-172zM1431 418v24h2v-24zM1433 358v62h2v-62zM1449 514v18h2v-18zM1451 488v34h2v-34zM1457 492v18h2v-18zM1459 486v14h2v-14zM1467 494v26h2v-26zM1469 472v30h2v-30zM1475 466v28h2v-28zM1477 462v10h2v-10zM1481 458v32h2v-32zM1483 448v18h2v-18zM1485 446v16h2v-16zM1493 484v14h2v-14zM1495 486v8h2v-8zM1497 484v30h2v-30zM1499 468v24h2v-24zM1501 452v20h2v-20zM1509 482v10h2v-10zM1515 480v12h2v-12zM1517 474v8h2v-8zM1519 474v10h2v-10zM1523 464v36h2v-36zM1527 470v26h2v-26zM1535 480v20h2v-20zM1539 478v8h2v-8zM1545 490v8h2v-8zM1547 482v12h2v-12zM1555 544v22h2v-22zM1561 580v18h2v-18zM1563 576v14h2v-14zM1565 568v14h2v-14zM1569 562v12h2v-12zM1575 576v18h2v-18zM1577 568v20h2v-20zM1579 566v14h2v-14zM1581 552v20h2v-20zM1585 550v10h2v-10zM1589 546v14h2v-14zM1591 538v8h2v-8zM1595 544v12h2v-12zM1597 534v12h2v-12zM1599 532v6h2v-6zM1603 528v14h2v-14zM1605 510v22h2v-22zM1609 500v14h2v-14zM1611 472v28h2v-28zM1613 456v24h2v-24zM1619 470v10h2v-10zM1621 460v12h2v-12zM1623 464v18h2v-18zM1629 458v16h2v-16zM1633 462v22h2v-22zM1635 466v14h2v-14zM1637 470v12h2v-12zM1641 484v18h2v-18zM1647 506v14h2v-14zM1649 490v18h2v-18zM1651 496v12h2v-12zM1653 488v14h2v-14zM1655 482v12h2v-12zM1657 468v34h2v-34zM1659 464v22h2v-22zM1667 496v12h2v-12zM1669 482v18h2v-18zM1673 490v8h2v-8zM1675 482v18h2v-18zM1677 476v18h2v-18zM1685 480v38h2v-38zM1687 484v18h2v-18zM1689 476v14h2v-14zM1691 446v34h2v-34zM1695 438v32h2v-32zM1707 462v8h2v-8zM1715 482v8h2v-8zM1725 538v24h2v-24zM1727 536v6h2v-6zM1729 530v12h2v-12zM1735 526v18h2v-18zM1737 532v24h2v-24zM1741 522v18h2v-18zM1743 512v16h2v-16zM1745 476v40h2v-40zM1749 484v12h2v-12zM1753 486v14h2v-14zM1761 496v18h2v-18zM1763 488v26h2v-26zM1767 496v22h2v-22zM1769 490v12h2v-12zM1773 494v12h2v-12zM1779 500v24h2v-24zM1781 484v18h2v-18zM1783 478v16h2v-16zM1785 414v66h2v-66zM1789 466v20h2v-20zM1791 458v20h2v-20zM1793 430v44h2v-44zM1795 408v36h2v-36zM1805 432v14h2v-14zM1811 456v14h2v-14zM1821 420v56h2v-56zM1823 446v16h2v-16zM1827 448v16h2v-16zM1829 430v26h2v-26zM1833 438v12h2v-12zM1837 434v12h2v-12zM1841 428v18h2v-18zM1843 428v10h2v-10zM1847 416v38h2v-38zM1849 420v20h2v-20zM1861 432v14h2v-14zM1867 476v34h2v-34zM1869 486v14h2v-14zM1871 384v110h2v-110zM1875 444v24h2v-24zM1881 478v20h2v-20zM1883 472v20h2v-20zM1885 464v12h2v-12zM1889 450v16h2v-16zM1897 476v16h2v-16zM1899 464v16h2v-16zM1907 474v24h2v-24zM1909 472v12h2v-12zM1919 472v30h2v-30zM1923 470v12h2v-12zM1929 462v46h2v-46zM1933 440v30h2v-30zM1935 440v10h2v-10zM1937 426v26h2v-26zM1939 430v12h2v-12zM1941 430v6h2v-6zM1945 436v8h2v-8zM1947 426v12h2v-12zM1953 408v30h2v-30zM1955 368v46h2v-46zM1961 414v32h2v-32zM1963 402v26h2v-26zM1967 394v10h2v-10zM1979 416v24h2v-24zM1981 408v20h2v-20zM1985 418v18h2v-18zM1989 412v12h2v-12zM1993 420v10h2v-10zM1997 438v10h2v-10zM1999 434v8h2v-8zM2001 422v14h2v-14zM2003 402v20h2v-20zM2009 402v14h2v-14zM2017 410v16h2v-16zM2021 400v18h2v-18zM2023 394v14h2v-14zM2027 372v24h2v-24zM2041 408v24h2v-24zM2043 402v16h2v-16zM2051 436v16h2v-16zM2055 436v16h2v-16zM2059 424v22h2v-22zM2061 418v20h2v-20zM2065 418v10h2v-10zM2071 416v36h2v-36zM2073 418v18h2v-18zM2075 406v14h2v-14zM2079 402v24h2v-24zM2081 404v10h2v-10zM2085 394v16h2v-16zM2087 384v18h2v-18zM2089 368v32h2v-32zM2091 364v40h2v-40zM2093 352v24h2v-24zM2095 354v18h2v-18zM2097 328v32h2v-32zM2099 344v6h2v-6zM2109 334v32h2v-32zM2111 166v184h2v-184zM2115 310v48h2v-48zM2119 318v32h2v-32zM2123 310v18h2v-18zM2129 388v34h2v-34zM2131 376v20h2v-20zM2133 368v16h2v-16zM2135 368v18h2v-18zM2137 366v18h2v-18zM2151 450v26h2v-26zM2153 442v10h2v-10zM2155 436v24h2v-24zM2157 420v22h2v-22zM2165 440v16h2v-16zM2169 438v14h2v-14zM2171 426v18h2v-18zM2175 438v14h2v-14zM2179 422v22h2v-22zM2181 418v14h2v-14zM2185 434v14h2v-14zM2187 438v10h2v-10zM2189 436v12h2v-12zM2191 426v14h2v-14zM2193 424v10h2v-10zM2199 430v16h2v-16zM2201 422v14h2v-14zM2205 422v8h2v-8zM2207 424v8h2v-8zM2209 418v12h2v-12zM2211 400v24h2v-24zM2213 396v12h2v-12zM2215 396v12h2v-12zM2221 392v18h2v-18zM2223 382v16h2v-16zM2231 406v20h2v-20zM2233 388v46h2v-46zM2237 384v16h2v-16zM2243 416v38h2v-38zM2245 394v36h2v-36zM2247 378v30h2v-30zM2251 370v44h2v-44zM2253 364v24h2v-24zM2257 358v22h2v-22zM2259 342v24h2v-24zM2265 346v22h2v-22zM2267 336v22h2v-22zM2271 332v24h2v-24zM2275 320v44h2v-44zM2277 320v26h2v-26zM2279 326v12h2v-12zM2281 318v18h2v-18zM2285 308v16h2v-16zM2287 296v20h2v-20zM2289 294v14h2v-14zM2291 278v28h2v-28zM2295 240v42h2v-42zM2297 258v18h2v-18zM2299 190v76h2v-76zM2303 220v20h2v-20zM2305 216v28h2v-28zM2307 178v48h2v-48zM2309 180v28h2v-28zM2313 176v28h2v-28zM2315 158v28h2v-28zM2321 178v18h2v-18zM2339 292v40h2v-40zM2341 286v14h2v-14zM2347 222v80h2v-80zM2351 278v14h2v-14zM2353 248v36h2v-36zM2355 220v46h2v-46zM2357 196v36h2v-36zM2359 182v26h2v-26zM2361 154v40h2v-40zM2365 174v28h2v-28zM2371 178v24h2v-24zM2375 188v30h2v-30zM2379 182v14h2v-14zM2385 204v16h2v-16zM2389 208v14h2v-14zM2391 204v10h2v-10zM2397 198v22h2v-22zM2401 202v12h2v-12zM2403 178v30h2v-30zM2409 158v26h2v-26zM2413 184v24h2v-24zM2415 182v26h2v-26zM2421 132v74h2v-74zM2423 106v34h2v-34zM2429 124v40h2v-40zM2431 130v28h2v-28zM2439 150v18h2v-18zM2443 142v20h2v-20zM2449 140v16h2v-16zM2451 146v16h2v-16zM2453 140v10h2v-10zM2461 186v24h2v-24zM2471 230v16h2v-16zM2475 238v36h2v-36zM2477 234v12h2v-12zM2479 226v22h2v-22zM2485 242v18h2v-18zM2487 240v14h2v-14zM2491 248v14h2v-14zM2493 238v18h2v-18zM2497 222v20h2v-20zM2503 218v18h2v-18zM2505 216v8h2v-8zM2507 210v10h2v-10zM2509 196v18h2v-18zM2513 218v24h2v-24zM2515 212v16h2v-16zM2517 210v18h2v-18zM2523 214v10h2v-10zM2527 220v16h2v-16zM2529 214v12h2v-12zM2533 212v10h2v-10z"/>
<path fill="#e53a30" d="M41 836v40h2v-40zM47 862v16h2v-16zM51 870v12h2v-12zM63 822v12h2v-12zM65 824v12h2v-12zM71 824v26h2v-26zM75 808v14h2v-14zM83 786v14h2v-14zM85 798v6h2v-6zM87 802v20h2v-20zM89 814v20h2v-20zM99 784v22h2v-22zM103 796v10h2v-10zM107 790v12h2v-12zM109 794v10h2v-10zM115 786v6h2v-6zM121 782v12h2v-12zM125 774v10h2v-10zM127 778v8h2v-8zM129 778v28h2v-28zM131 796v16h2v-16zM133 802v10h2v-10zM137 800v18h2v-18zM149 782v10h2v-10zM153 772v10h2v-10zM159 756v18h2v-18zM165 760v36h2v-36zM167 764v68h2v-68zM175 800v12h2v-12zM187 774v20h2v-20zM189 792v6h2v-6zM191 792v10h2v-10zM205 762v8h2v-8zM207 768v18h2v-18zM211 776v10h2v-10zM217 772v8h2v-8zM219 778v12h2v-12zM223 748v22h2v-22zM235 756v14h2v-14zM239 752v24h2v-24zM247 738v16h2v-16zM255 740v8h2v-8zM259 724v22h2v-22zM261 732v22h2v-22zM263 744v20h2v-20zM267 748v10h2v-10zM273 750v14h2v-14zM275 752v12h2v-12zM277 758v12h2v-12zM287 748v18h2v-18zM297 748v6h2v-6zM301 742v18h2v-18zM303 756v12h2v-12zM307 762v10h2v-10zM315 762v4h2v-4zM319 762v6h2v-6zM325 766v14h2v-14zM333 762v22h2v-22zM335 768v28h2v-28zM339 788v8h2v-8zM341 790v8h2v-8zM345 784v12h2v-12zM351 788v8h2v-8zM353 788v8h2v-8zM357 784v8h2v-8zM361 774v12h2v-12zM365 772v12h2v-12zM371 776v14h2v-14zM375 778v22h2v-22zM381 782v8h2v-8zM387 786v24h2v-24zM391 800v8h2v-8zM393 804v10h2v-10zM399 788v12h2v-12zM409 776v12h2v-12zM413 782v6h2v-6zM415 786v32h2v-32zM423 786v14h2v-14zM431 792v8h2v-8zM439 782v8h2v-8zM445 782v6h2v-6zM461 742v10h2v-10zM465 748v6h2v-6zM475 724v24h2v-24zM477 736v8h2v-8zM483 732v8h2v-8zM485 734v8h2v-8zM487 734v10h2v-10zM491 730v8h2v-8zM495 728v4h2v-4zM497 730v10h2v-10zM503 728v6h2v-6zM507 698v34h2v-34zM511 724v12h2v-12zM517 732v4h2v-4zM521 732v4h2v-4zM523 732v4h2v-4zM525 736v6h2v-6zM527 740v8h2v-8zM531 744v8h2v-8zM533 750v6h2v-6zM535 750v10h2v-10zM537 756v12h2v-12zM541 762v12h2v-12zM543 764v10h2v-10zM545 772v24h2v-24zM549 782v52h2v-52zM553 806v10h2v-10zM555 806v20h2v-20zM569 778v10h2v-10zM571 786v10h2v-10zM575 786v32h2v-32zM587 746v14h2v-14zM601 722v16h2v-16zM605 728v20h2v-20zM617 654v38h2v-38zM619 674v22h2v-22zM621 690v20h2v-20zM623 702v24h2v-24zM629 694v16h2v-16zM631 706v14h2v-14zM637 708v14h2v-14zM645 698v8h2v-8zM649 688v16h2v-16zM651 700v24h2v-24zM659 690v56h2v-56zM661 728v12h2v-12zM663 722v26h2v-26zM667 738v14h2v-14zM673 734v12h2v-12zM675 744v68h2v-68zM677 786v28h2v-28zM679 812v24h2v-24zM685 780v14h2v-14zM693 754v26h2v-26zM695 774v12h2v-12zM707 728v16h2v-16zM709 740v50h2v-50zM717 758v18h2v-18zM719 770v10h2v-10zM733 754v22h2v-22zM737 764v18h2v-18zM745 754v14h2v-14zM747 764v16h2v-16zM751 764v16h2v-16zM753 774v6h2v-6zM765 748v10h2v-10zM769 752v6h2v-6zM775 742v12h2v-12zM783 726v14h2v-14zM785 736v8h2v-8zM791 728v8h2v-8zM799 718v16h2v-16zM801 726v10h2v-10zM803 730v10h2v-10zM815 724v8h2v-8zM819 714v10h2v-10zM821 720v4h2v-4zM823 720v6h2v-6zM827 726v14h2v-14zM829 726v14h2v-14zM835 700v14h2v-14zM839 706v8h2v-8zM841 712v18h2v-18zM845 720v14h2v-14zM847 726v12h2v-12zM851 730v20h2v-20zM853 736v14h2v-14zM855 738v6h2v-6zM857 740v10h2v-10zM859 748v8h2v-8zM861 752v8h2v-8zM865 756v6h2v-6zM873 740v10h2v-10zM877 746v8h2v-8zM887 736v12h2v-12zM891 736v6h2v-6zM897 738v4h2v-4zM903 738v10h2v-10zM907 738v20h2v-20zM913 732v8h2v-8zM915 734v6h2v-6zM917 734v8h2v-8zM927 732v8h2v-8zM931 734v8h2v-8zM933 738v8h2v-8zM935 742v10h2v-10zM941 748v6h2v-6zM949 742v8h2v-8zM951 746v8h2v-8zM955 750v8h2v-8zM959 754v8h2v-8zM961 758v14h2v-14zM963 758v18h2v-18zM967 760v12h2v-12zM971 754v8h2v-8zM975 756v34h2v-34zM981 768v8h2v-8zM993 740v20h2v-20zM997 750v14h2v-14zM999 752v12h2v-12zM1003 758v8h2v-8zM1007 750v8h2v-8zM1011 748v8h2v-8zM1017 748v16h2v-16zM1019 762v20h2v-20zM1021 776v16h2v-16zM1025 760v14h2v-14zM1027 770v8h2v-8zM1033 764v8h2v-8zM1045 750v6h2v-6zM1057 734v10h2v-10zM1067 728v22h2v-22zM1071 744v4h2v-4zM1077 744v8h2v-8zM1083 738v8h2v-8zM1087 742v8h2v-8zM1093 736v6h2v-6zM1099 730v4h2v-4zM1103 732v4h2v-4zM1105 734v14h2v-14zM1119 714v10h2v-10zM1123 716v4h2v-4zM1131 714v12h2v-12zM1133 722v8h2v-8zM1143 712v8h2v-8zM1151 712v10h2v-10zM1153 720v4h2v-4zM1155 722v4h2v-4zM1157 722v18h2v-18zM1163 708v8h2v-8zM1169 708v16h2v-16zM1171 720v8h2v-8zM1173 722v8h2v-8zM1175 726v10h2v-10zM1179 726v20h2v-20zM1181 740v12h2v-12zM1185 736v10h2v-10zM1189 740v6h2v-6zM1195 730v16h2v-16zM1199 740v8h2v-8zM1201 746v22h2v-22zM1203 764v18h2v-18zM1209 766v8h2v-8zM1213 766v14h2v-14zM1215 778v66h2v-66zM1217 838v72h2v-72zM1219 858v44h2v-44zM1221 864v32h2v-32zM1227 870v26h2v-26zM1231 826v28h2v-28zM1235 774v60h2v-60zM1239 800v28h2v-28zM1241 816v18h2v-18zM1249 816v18h2v-18zM1251 828v26h2v-26zM1255 826v20h2v-20zM1257 836v12h2v-12zM1261 842v8h2v-8zM1267 832v28h2v-28zM1273 834v8h2v-8zM1277 818v10h2v-10zM1285 800v18h2v-18zM1297 700v24h2v-24zM1299 718v14h2v-14zM1305 708v24h2v-24zM1307 716v22h2v-22zM1313 714v24h2v-24zM1315 734v22h2v-22zM1323 738v30h2v-30zM1325 750v10h2v-10zM1327 750v16h2v-16zM1343 730v10h2v-10zM1349 728v16h2v-16zM1355 710v28h2v-28zM1361 718v16h2v-16zM1363 722v18h2v-18zM1369 710v12h2v-12zM1375 670v14h2v-14zM1379 668v16h2v-16zM1381 682v12h2v-12zM1383 688v10h2v-10zM1389 672v32h2v-32zM1393 646v20h2v-20zM1405 640v12h2v-12zM1411 628v20h2v-20zM1413 646v16h2v-16zM1429 392v52h2v-52zM1437 372v88h2v-88zM1439 424v30h2v-30zM1441 420v30h2v-30zM1443 428v68h2v-68zM1445 488v18h2v-18zM1447 502v30h2v-30zM1455 490v44h2v-44zM1461 480v18h2v-18zM1463 492v30h2v-30zM1465 514v8h2v-8zM1471 456v28h2v-28zM1479 462v18h2v-18zM1487 446v20h2v-20zM1489 460v42h2v-42zM1503 452v22h2v-22zM1505 462v16h2v-16zM1507 468v44h2v-44zM1513 478v12h2v-12zM1521 470v16h2v-16zM1525 484v12h2v-12zM1531 474v18h2v-18zM1533 488v12h2v-12zM1537 474v16h2v-16zM1541 480v8h2v-8zM1543 486v22h2v-22zM1551 478v80h2v-80zM1553 540v58h2v-58zM1557 552v26h2v-26zM1559 576v20h2v-20zM1571 562v16h2v-16zM1573 564v16h2v-16zM1583 546v12h2v-12zM1593 540v16h2v-16zM1601 530v10h2v-10zM1615 456v36h2v-36zM1617 466v20h2v-20zM1627 426v72h2v-72zM1631 456v28h2v-28zM1639 466v34h2v-34zM1643 496v40h2v-40zM1661 468v18h2v-18zM1665 482v42h2v-42zM1671 482v16h2v-16zM1679 476v14h2v-14zM1681 484v26h2v-26zM1693 450v14h2v-14zM1697 434v20h2v-20zM1699 448v8h2v-8zM1703 450v8h2v-8zM1705 450v20h2v-20zM1709 462v24h2v-24zM1711 478v24h2v-24zM1713 480v18h2v-18zM1717 484v30h2v-30zM1719 510v56h2v-56zM1723 548v36h2v-36zM1731 528v12h2v-12zM1733 534v12h2v-12zM1747 460v52h2v-52zM1751 486v16h2v-16zM1755 482v26h2v-26zM1757 496v14h2v-14zM1765 486v20h2v-20zM1771 490v16h2v-16zM1775 490v34h2v-34zM1787 468v12h2v-12zM1799 406v28h2v-28zM1801 424v16h2v-16zM1803 420v18h2v-18zM1807 434v26h2v-26zM1809 448v22h2v-22zM1813 456v10h2v-10zM1817 456v28h2v-28zM1819 468v18h2v-18zM1825 450v22h2v-22zM1831 434v18h2v-18zM1839 430v18h2v-18zM1845 392v54h2v-54zM1851 416v20h2v-20zM1855 418v14h2v-14zM1857 418v22h2v-22zM1859 434v16h2v-16zM1863 438v12h2v-12zM1865 444v58h2v-58zM1877 440v52h2v-52zM1879 470v28h2v-28zM1887 458v8h2v-8zM1893 450v40h2v-40zM1895 484v8h2v-8zM1901 462v16h2v-16zM1903 470v10h2v-10zM1905 472v26h2v-26zM1913 474v10h2v-10zM1915 478v8h2v-8zM1917 476v22h2v-22zM1921 466v18h2v-18zM1925 468v30h2v-30zM1927 486v22h2v-22zM1943 430v18h2v-18zM1951 424v10h2v-10zM1957 370v36h2v-36zM1959 392v42h2v-42zM1965 398v28h2v-28zM1971 392v18h2v-18zM1973 406v64h2v-64zM1975 408v12h2v-12zM1977 404v32h2v-32zM1983 418v12h2v-12zM1991 410v18h2v-18zM1995 426v28h2v-28zM2005 402v14h2v-14zM2011 402v16h2v-16zM2013 406v10h2v-10zM2015 408v24h2v-24zM2019 410v12h2v-12zM2029 358v34h2v-34zM2031 370v58h2v-58zM2033 382v36h2v-36zM2035 390v34h2v-34zM2037 422v26h2v-26zM2039 422v22h2v-22zM2047 408v40h2v-40zM2049 430v38h2v-38zM2053 434v10h2v-10zM2057 432v12h2v-12zM2067 420v16h2v-16zM2069 432v28h2v-28zM2077 402v20h2v-20zM2103 344v18h2v-18zM2105 350v10h2v-10zM2107 356v12h2v-12zM2113 282v56h2v-56zM2117 318v28h2v-28zM2125 312v18h2v-18zM2127 318v106h2v-106zM2141 338v38h2v-38zM2143 370v28h2v-28zM2145 376v80h2v-80zM2147 424v48h2v-48zM2149 456v34h2v-34zM2161 426v12h2v-12zM2163 432v22h2v-22zM2167 432v30h2v-30zM2173 426v26h2v-26zM2183 416v36h2v-36zM2195 424v16h2v-16zM2203 420v8h2v-8zM2219 390v24h2v-24zM2225 380v16h2v-16zM2227 386v34h2v-34zM2229 416v18h2v-18zM2239 372v18h2v-18zM2241 386v70h2v-70zM2249 376v44h2v-44zM2261 334v22h2v-22zM2263 348v36h2v-36zM2269 338v12h2v-12zM2283 318v12h2v-12zM2301 212v30h2v-30zM2317 166v20h2v-20zM2319 170v30h2v-30zM2323 178v38h2v-38zM2325 208v32h2v-32zM2327 226v34h2v-34zM2329 228v40h2v-40zM2333 230v26h2v-26zM2335 250v46h2v-46zM2337 278v50h2v-50zM2343 286v18h2v-18zM2345 286v16h2v-16zM2363 174v36h2v-36zM2367 174v36h2v-36zM2373 176v46h2v-46zM2377 190v18h2v-18zM2381 188v30h2v-30zM2383 202v18h2v-18zM2393 200v20h2v-20zM2395 206v16h2v-16zM2399 200v10h2v-10zM2405 162v20h2v-20zM2411 156v56h2v-56zM2417 182v22h2v-22zM2419 176v52h2v-52zM2427 124v42h2v-42zM2433 120v42h2v-42zM2435 142v24h2v-24zM2437 154v30h2v-30zM2441 152v12h2v-12zM2447 142v20h2v-20zM2455 138v44h2v-44zM2457 160v34h2v-34zM2459 176v32h2v-32zM2465 196v22h2v-22zM2467 198v22h2v-22zM2469 210v38h2v-38zM2473 228v30h2v-30zM2481 228v50h2v-50zM2489 238v34h2v-34zM2495 236v10h2v-10zM2499 228v14h2v-14zM2511 204v42h2v-42zM2519 216v16h2v-16zM2525 220v10h2v-10zM2531 212v16h2v-16zM2535 212v14h2v-14zM2537 222v16h2v-16zM2539 222v8h2v-8z"/>
<path stroke="#e53a30" stroke-width="2" stroke-dasharray="12 4" stroke-dashoffset="0" fill="none" d="M42 230H2562"/>
<rect x="2561" y="6" width="2" height="1005" fill="#9fa5ae"/>
<rect x="42" y="1009" width="2521" height="2" fill="#9fa5ae"/>
<rect x="2563" y="73" width="7" height="2" fill="#9fa5ae"/>
<rect x="2563" y="141" width="7" height="2" fill="#9fa5ae"/>
<rect x="2563" y="211" width="7" height="2" fill="#9fa5ae"/>
<rect x="2563" y="279" width="7" height="2" fill="#9fa5ae"/>
<rect x="2563" y="349" width="7" height="2" fill="#9fa5ae"/>
<rect x="2563" y="417" width="7" height="2" fill="#9fa5ae"/>
<rect x="2563" y="487" width="7" height="2" fill="#9fa5ae"/>
<rect x="2563" y="555" width="7" height="2" fill="#9fa5ae"/>
<rect x="2563" y="625" width="7" height="2" fill="#9fa5ae"/>
<rect x="2563" y="693" width="7" height="2" fill="#9fa5ae"/>
<rect x="2563" y="763" width="7" height="2" fill="#9fa5ae"/>
<rect x="2563" y="831" width="7" height="2" fill="#9fa5ae"/>
<rect x="2563" y="901" width="7" height="2" fill="#9fa5ae"/>
<rect x="2563" y="969" width="7" height="2" fill="#9fa5ae"/>
<rect x="141" y="1011" width="2" height="7" fill="#9fa5ae"/>
<rect x="247" y="1011" width="2" height="7" fill="#9fa5ae"/>
<rect x="327" y="1011" width="2" height="7" fill="#9fa5ae"/>
<rect x="515" y="1011" width="2" height="7" fill="#9fa5ae"/>
<rect x="703" y="1011" width="2" height="7" fill="#9fa5ae"/>
<rect x="891" y="1011" width="2" height="7" fill="#9fa5ae"/>
<rect x="1079" y="1011" width="2" height="7" fill="#9fa5ae"/>
<rect x="1267" y="1011" width="2" height="7" fill="#9fa5ae"/>
<rect x="1455" y="1011" width="2" height="7" fill="#9fa5ae"/>
<rect x="1641" y="1011" width="2" height="7" fill="#9fa5ae"/>
<rect x="1829" y="1011" width="2" height="7" fill="#9fa5ae"/>
<rect x="1909" y="1011" width="2" height="7" fill="#9fa5ae"/>
<rect x="2017" y="1011" width="2" height="7" fill="#9fa5ae"/>
<rect x="2205" y="1011" width="2" height="7" fill="#9fa5ae"/>
<rect x="2393" y="1011" width="2" height="7" fill="#9fa5ae"/>
</g>
<text class="ax" x="2576" y="82.3">0.07400</text>
<text class="ax" x="2576" y="150.3">0.07200</text>
<text class="ax" x="2576" y="220.3">0.07000</text>
<text class="ax" x="2576" y="288.3">0.06800</text>
<text class="ax" x="2576" y="358.3">0.06600</text>
<text class="ax" x="2576" y="426.3">0.06400</text>
<text class="ax" x="2576" y="496.3">0.06200</text>
<text class="ax" x="2576" y="564.3">0.06000</text>
<text class="ax" x="2576" y="634.3">0.05800</text>
<text class="ax" x="2576" y="702.3">0.05600</text>
<text class="ax" x="2576" y="772.3">0.05400</text>
<text class="ax" x="2576" y="840.3">0.05200</text>
<text class="ax" x="2576" y="910.3">0.05000</text>
<text class="ax" x="2576" y="978.3">0.04800</text>
<text class="tm" x="142.0" y="1041">27 Nov</text>
<text class="tm" x="248.0" y="1041">Dec</text>
<text class="tm" x="328.0" y="1041">4 Dec</text>
<text class="tm" x="516.0" y="1041">11 Dec</text>
<text class="tm" x="704.0" y="1041">18 Dec</text>
<text class="tm" x="892.0" y="1041">25 Dec</text>
<text class="tm" x="1080.0" y="1041">2023</text>
<text class="tm" x="1268.0" y="1041">8 Jan</text>
<text class="tm" x="1456.0" y="1041">15 Jan</text>
<text class="tm" x="1642.0" y="1041">22 Jan</text>
<text class="tm" x="1830.0" y="1041">29 Jan</text>
<text class="tm" x="1910.0" y="1041">Feb</text>
<text class="tm" x="2018.0" y="1041">5 Feb</text>
<text class="tm" x="2206.0" y="1041">12 Feb</text>
<text class="tm" x="2394.0" y="1041">19 Feb</text>
<path d="M2563.5 230L2577.5 216V209.5H2674.6V250.5H2577.5V244Z" fill="#e53a30" stroke="#8c939e" stroke-width="1"/>
<text class="lb" x="2584" y="238.6" style="letter-spacing:-0.45px">0.06950</text>
<path d="M2540 1011.5L2554 1025.5H2582.5V1066.5H2477.5V1025.5H2526Z" fill="#e53a30" stroke="#8c939e" stroke-width="1"/>
<text class="lb" x="2483" y="1056.4">01:01:48</text>
<path d="M77.5 40L94 56.5L110.5 40" fill="none" stroke="#3c3f4b" stroke-width="4.6" stroke-linecap="round" stroke-linejoin="round"/>
<circle cx="164" cy="49.9" r="18" fill="#eb0029"/>
<g fill="none" stroke="#fff" stroke-width="1.15" stroke-linejoin="round"><path d="M154.6 40.2L170.2 43.7L174.4 47.1L163.2 60.6Z"/><path d="M154.6 40.2L164.4 47.8L163.2 60.6M164.4 47.8L170.2 43.7M164.4 47.8L174.4 47.1"/></g>
<text class="hd" x="209.6" y="59.3" style="white-space:pre"><tspan style="letter-spacing:0.56px">BINANCE:TRXUSDT (2h)</tspan><tspan dx="2" style="letter-spacing:0.44px"> - Fri 24 Feb 23 13:00</tspan></text>
<circle cx="2552" cy="40" r="30" fill="#3b449e"/>
<path d="M2530.8 51.6L2544.6 37.8L2555.2 48.8L2573.5 30.5M2565 30H2574V39" fill="none" stroke="#fff" stroke-width="2.4"/>
<text class="br" x="2592" y="47.8">Charts p</text>
</svg>
</body>
</html>
